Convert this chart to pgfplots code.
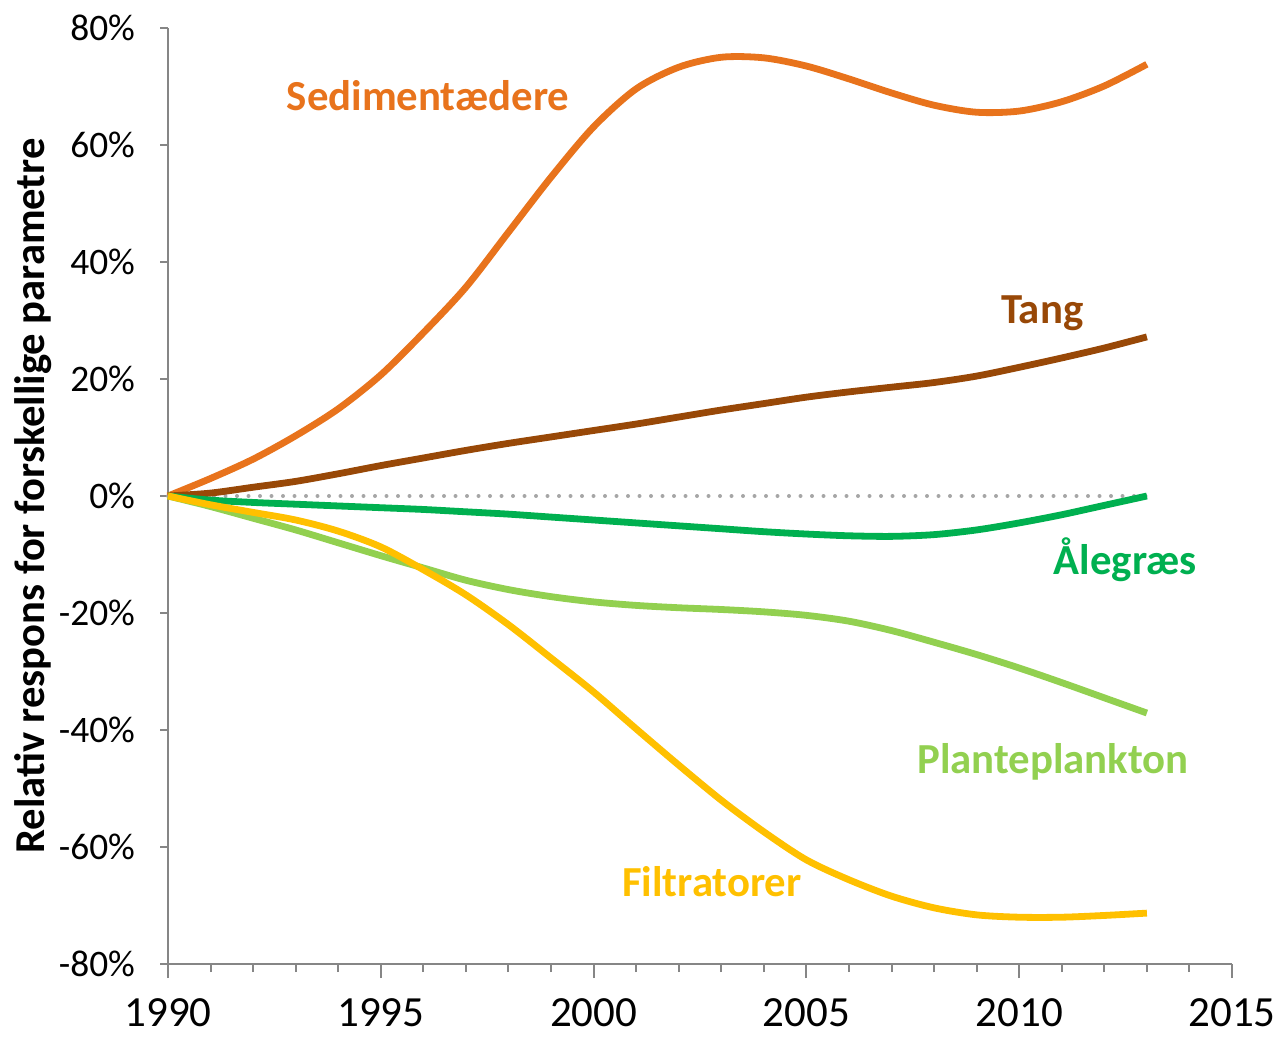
\documentclass[border=0pt]{standalone}
\usepackage{pgfplots}
\pgfplotsset{compat=1.18}
\usepackage{fontspec}
\setmainfont{Carlito}
\definecolor{sedc}{HTML}{E8731C}
\definecolor{tangc}{HTML}{984807}
\definecolor{alec}{HTML}{00B050}
\definecolor{plac}{HTML}{92D050}
\definecolor{filc}{HTML}{FFC000}
\definecolor{axc}{HTML}{868686}
\definecolor{zeroc}{HTML}{A6A6A6}
\begin{document}
\begin{tikzpicture}
\useasboundingbox (-84pt,-38pt) rectangle (558pt,482pt);
\begin{axis}[
  at={(0,0)}, anchor=south west,
  scale only axis, width=532pt, height=468pt,
  xmin=1990, xmax=2015, ymin=-80, ymax=80,
  axis lines*=left,
  axis line style={axc, line width=1pt},
  clip=false,
  xtick={1990,1995,2000,2005,2010,2015},
  xticklabels={1990,1995,2000,2005,2010,2015},
  minor xtick={1991,1992,1993,1994,1996,1997,1998,1999,2001,2002,2003,2004,2006,2007,2008,2009,2011,2012,2013,2014},
  xticklabel style={font=\fontsize{21.5}{24}\selectfont, yshift=-7pt},
  ytick=\empty,
  extra y ticks={-80,-60,-40,-20,0,20,40,60,80},
  extra y tick labels={-80\%,-60\%,-40\%,-20\%,0\%,20\%,40\%,60\%,80\%},
  extra y tick style={major tick length=4pt, yticklabel style={font=\fontsize{18.7}{21}\selectfont, xshift=-9pt}},
  tick align=outside,
  major tick length=7pt,
  minor tick length=4pt,
  every tick/.style={axc, line width=1pt},
  line join=round,
]
\addplot[zeroc, line width=2pt, line cap=round, dash pattern=on 0pt off 5.75pt] coordinates {(1990,0) (2013,0)};
\addplot[sedc, line width=3.4pt, smooth] coordinates {
(1990,0) (1991,3.0) (1992,6.3) (1993,10.3) (1994,14.9) (1995,20.7) (1996,27.9) (1997,35.7) (1998,45.1) (1999,54.5) (2000,63.1) (2001,69.6) (2002,73.3) (2003,75.0) (2004,74.9) (2005,73.5) (2006,71.3) (2007,68.9) (2008,66.8) (2009,65.6) (2010,65.8) (2011,67.4) (2012,70.1) (2013,73.8)};
\addplot[tangc, line width=3.4pt, smooth] coordinates {
(1990,0) (1991,0.5) (1992,1.5) (1993,2.5) (1994,3.8) (1995,5.2) (1996,6.5) (1997,7.8) (1998,9.0) (1999,10.1) (2000,11.2) (2001,12.3) (2002,13.5) (2003,14.7) (2004,15.8) (2005,16.9) (2006,17.8) (2007,18.6) (2008,19.4) (2009,20.5) (2010,22.0) (2011,23.6) (2012,25.3) (2013,27.2)};
\addplot[alec, line width=3.4pt, smooth] coordinates {
(1990,0) (1991,-0.7) (1992,-1.1) (1993,-1.4) (1994,-1.7) (1995,-2.0) (1996,-2.3) (1997,-2.7) (1998,-3.1) (1999,-3.6) (2000,-4.1) (2001,-4.6) (2002,-5.1) (2003,-5.6) (2004,-6.1) (2005,-6.5) (2006,-6.8) (2007,-6.9) (2008,-6.6) (2009,-5.8) (2010,-4.6) (2011,-3.2) (2012,-1.6) (2013,0)};
\addplot[plac, line width=3.4pt, smooth] coordinates {
(1990,0) (1991,-1.8) (1992,-3.8) (1993,-5.8) (1994,-8.0) (1995,-10.2) (1996,-12.3) (1997,-14.4) (1998,-16.0) (1999,-17.2) (2000,-18.1) (2001,-18.7) (2002,-19.1) (2003,-19.4) (2004,-19.8) (2005,-20.4) (2006,-21.4) (2007,-23.0) (2008,-25.0) (2009,-27.1) (2010,-29.4) (2011,-31.9) (2012,-34.5) (2013,-37.1)};
\addplot[filc, line width=3.4pt, smooth] coordinates {
(1990,0) (1991,-1.5) (1992,-2.8) (1993,-4.1) (1994,-6.0) (1995,-8.7) (1996,-12.6) (1997,-16.9) (1998,-22.0) (1999,-27.7) (2000,-33.5) (2001,-39.8) (2002,-46.0) (2003,-52.0) (2004,-57.4) (2005,-62.2) (2006,-65.6) (2007,-68.4) (2008,-70.4) (2009,-71.6) (2010,-72.0) (2011,-72.0) (2012,-71.7) (2013,-71.3)};
\node[sedc, font=\bfseries\fontsize{21.4}{24}\selectfont] at (axis cs:1996.11,68.5) {Sedimentædere};
\node[tangc, font=\bfseries\fontsize{21.4}{24}\selectfont] at (axis cs:2010.54,31.3) {Tang};
\node[alec, font=\bfseries\fontsize{21.4}{24}\selectfont] at (axis cs:2012.49,-10.9) {Ålegræs};
\node[plac, font=\bfseries\fontsize{21.4}{24}\selectfont] at (axis cs:2010.79,-45.5) {Planteplankton};
\node[filc, font=\bfseries\fontsize{21.4}{24}\selectfont] at (axis cs:2002.78,-66.0) {Filtratorer};
\node[rotate=90, font=\bfseries\fontsize{21.3}{24}\selectfont] at ([xshift=-67.5pt]rel axis cs:0,0.5) {Relativ respons for forskellige parametre};
\end{axis}
\end{tikzpicture}
\end{document}
